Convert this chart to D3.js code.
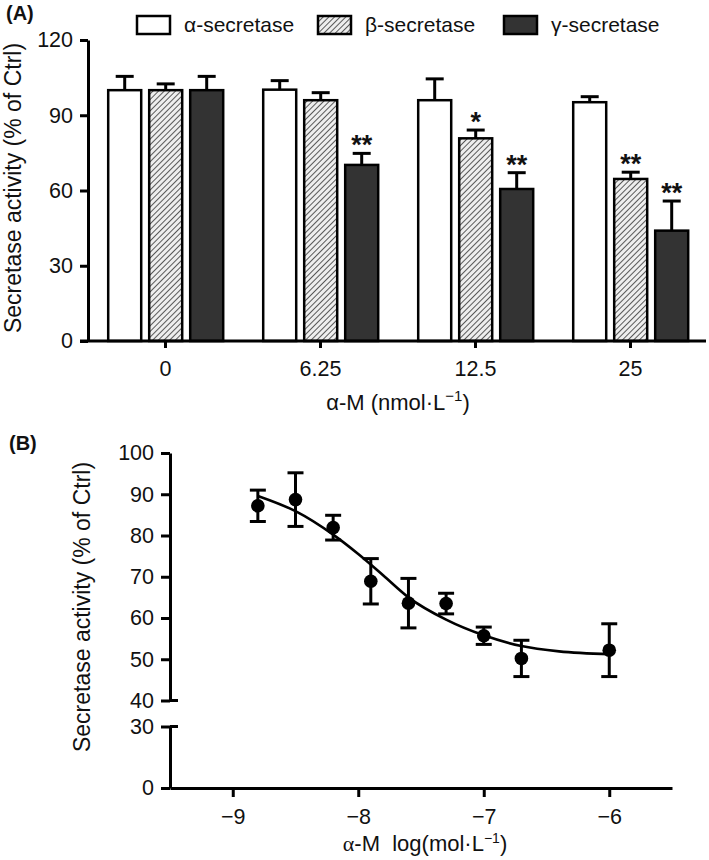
<!DOCTYPE html>
<html>
<head>
<meta charset="utf-8">
<script src="https://cdn.jsdelivr.net/npm/d3@7"></script>
<style>
  html, body { margin: 0; padding: 0; background: #fff; }
  svg { display: block; font-family: "Liberation Sans", Arial, sans-serif; }
</style>
</head>
<body>
<svg id="chart" width="709" height="860"></svg>
<script>
// ---------- Panel A data ----------
const categories = ['0', '6.25', '12.5', '25'];
const seriesNames = ['α-secretase', 'β-secretase', 'γ-secretase'];
const alphaMean = [100, 100.2, 96.0, 95.2];
const alphaErr  = [5.5, 3.6, 8.5, 2.2];
const betaMean  = [100, 96.0, 80.8, 64.6];
const betaErr   = [2.5, 3.0, 3.3, 2.7];
const gammaMean = [100, 70.2, 60.6, 44.0];
const gammaErr  = [5.5, 4.6, 6.5, 11.8];
const alphaSig  = ['', '', '', ''];
const betaSig   = ['', '', '*', '**'];
const gammaSig  = ['', '**', '**', '**'];
const yTicksA   = [0, 30, 60, 90, 120];

// ---------- Panel B data ----------
const logDose   = [-8.8, -8.5, -8.2, -7.9, -7.6, -7.3, -7.0, -6.7, -6.0];
const activity  = [87.2, 88.7, 81.9, 68.9, 63.6, 63.5, 55.7, 50.2, 52.2];
const activitySem = [3.8, 6.5, 3.0, 5.5, 6.0, 2.5, 2.1, 4.4, 6.4];
const fitX = [-8.8, -8.5, -8.2, -8.0, -7.8, -7.6, -7.3, -7.0, -6.7, -6.4, -6.0];
const fitY = [89.6, 85.9, 80.2, 75.5, 70.3, 65.0, 59.6, 55.8, 53.2, 51.9, 51.2];
const xTicksB = [-9, -8, -7, -6];
const yTicksBTop = [40, 50, 60, 70, 80, 90, 100];
const yTicksBBottom = [0, 30];

const svg = d3.select('#chart');
const defs = svg.append('defs');
const pat = defs.append('pattern')
  .attr('id', 'hatch')
  .attr('patternUnits', 'userSpaceOnUse')
  .attr('width', 4).attr('height', 4)
  .attr('patternTransform', 'rotate(45)');
pat.append('rect').attr('width', 4).attr('height', 4).attr('fill', '#eeeeee');
pat.append('line').attr('x1', 0).attr('y1', 0).attr('x2', 0).attr('y2', 4)
  .attr('stroke', '#333').attr('stroke-width', 1.6);

const fills = ['#ffffff', 'url(#hatch)', '#333333'];
const means = [alphaMean, betaMean, gammaMean];
const errs = [alphaErr, betaErr, gammaErr];
const sigs = [alphaSig, betaSig, gammaSig];

// ================= PANEL A =================
const xA = d3.scaleBand().domain(categories).range([88, 708]).paddingInner(0).paddingOuter(0);
const xA1 = d3.scaleBand().domain(seriesNames).range([20.2, 135.2]).paddingInner(0.195).paddingOuter(0);
const yA = d3.scaleLinear().domain([0, 120]).range([341, 40]);

const gA = svg.append('g');

const barData = [];
categories.forEach((c, i) => {
  seriesNames.forEach((s, j) => {
    barData.push({cat: c, ser: s, j, v: means[j][i], e: errs[j][i], sig: sigs[j][i]});
  });
});

// error bars (upper only)
const capW = 18;
gA.selectAll('.errA').data(barData).enter().append('g').attr('class', 'errA')
  .each(function(d) {
    const cx = xA(d.cat) + xA1(d.ser) + xA1.bandwidth() / 2;
    const g = d3.select(this);
    g.append('line').attr('x1', cx).attr('x2', cx)
      .attr('y1', yA(d.v)).attr('y2', yA(d.v + d.e))
      .attr('stroke', '#000').attr('stroke-width', 3);
    g.append('line').attr('x1', cx - capW / 2).attr('x2', cx + capW / 2)
      .attr('y1', yA(d.v + d.e)).attr('y2', yA(d.v + d.e))
      .attr('stroke', '#000').attr('stroke-width', 3);
  });

gA.selectAll('.barA').data(barData).enter().append('rect').attr('class', 'barA')
  .attr('x', d => xA(d.cat) + xA1(d.ser))
  .attr('y', d => yA(d.v))
  .attr('width', xA1.bandwidth())
  .attr('height', d => yA(0) - yA(d.v))
  .attr('fill', d => fills[d.j])
  .attr('stroke', '#000').attr('stroke-width', 2.5);

gA.selectAll('.sigA').data(barData.filter(d => d.sig)).enter().append('text')
  .attr('x', d => xA(d.cat) + xA1(d.ser) + xA1.bandwidth() / 2)
  .attr('y', d => yA(d.v + d.e) + 1)
  .attr('text-anchor', 'middle')
  .attr('font-size', 27)
  .attr('font-weight', 'bold')
  .attr('fill', '#111')
  .text(d => d.sig);

// axes A
const axA_y = d3.axisLeft(yA).tickValues(yTicksA).tickSize(8).tickSizeOuter(0).tickPadding(7);
const gAy = gA.append('g').attr('transform', 'translate(88,0)').call(axA_y);
const axA_x = d3.axisBottom(xA).tickSize(7).tickSizeOuter(0).tickPadding(13);
const gAx = gA.append('g').attr('transform', 'translate(0,341)').call(axA_x);
[gAy, gAx].forEach(g => {
  g.select('.domain').attr('stroke', '#000').attr('stroke-width', 3);
  g.selectAll('.tick line').attr('stroke', '#000').attr('stroke-width', 3);
  g.selectAll('.tick text').attr('font-size', 21.5).attr('fill', '#111')
    .attr('font-family', '"Liberation Sans", Arial, sans-serif');
});
gAx.select('.domain').attr('d', 'M80,0H706');

gA.append('text')
  .attr('transform', 'translate(21,188) rotate(-90)')
  .attr('text-anchor', 'middle').attr('font-size', 23).attr('fill', '#111')
  .text('Secretase activity (% of Ctrl)');

const xlabA = gA.append('text').attr('x', 398).attr('y', 410)
  .attr('text-anchor', 'middle').attr('font-size', 22).attr('fill', '#111');
xlabA.append('tspan').text('α-M (nmol·L');
xlabA.append('tspan').attr('dy', -9).attr('font-size', 15).text('−1');
xlabA.append('tspan').attr('dy', 9).text(')');

svg.append('text').attr('x', 6).attr('y', 20).attr('font-size', 20)
  .attr('font-weight', 'bold').attr('fill', '#111').text('(A)');

// legend
const legX = [137, 318, 504];
seriesNames.forEach((s, j) => {
  svg.append('rect').attr('x', legX[j]).attr('y', 16).attr('width', 33).attr('height', 18)
    .attr('fill', fills[j]).attr('stroke', '#000').attr('stroke-width', 2.5);
  svg.append('text').attr('x', legX[j] + 47).attr('y', 32).attr('font-size', 21)
    .attr('fill', '#111').text(s);
});

// ================= PANEL B =================
const xB = d3.scaleLinear().domain([-9.5, -5.5]).range([170, 672]);
const yBt = d3.scaleLinear().domain([40, 100]).range([700.5, 453]);
const yBb = d3.scaleLinear().domain([0, 30]).range([788, 726.5]);
const gB = svg.append('g');

const axB_x = d3.axisBottom(xB).tickValues(xTicksB).tickSize(9).tickSizeOuter(0).tickPadding(12)
  .tickFormat(d => '−' + Math.abs(d));
const gBx = gB.append('g').attr('transform', 'translate(0,788)').call(axB_x);
const gByt = gB.append('g').attr('transform', 'translate(170,0)')
  .call(d3.axisLeft(yBt).tickValues(yTicksBTop).tickSize(9).tickSizeOuter(0).tickPadding(7));
const gByb = gB.append('g').attr('transform', 'translate(170,0)')
  .call(d3.axisLeft(yBb).tickValues(yTicksBBottom).tickSize(9).tickSizeOuter(0).tickPadding(7));
[gBx, gByt, gByb].forEach(g => {
  g.select('.domain').attr('stroke', '#000').attr('stroke-width', 3);
  g.selectAll('.tick line').attr('stroke', '#000').attr('stroke-width', 3);
  g.selectAll('.tick text').attr('font-size', 21.5).attr('fill', '#111')
    .attr('font-family', '"Liberation Sans", Arial, sans-serif');
});
// break caps
[yBt(40), yBb(30)].forEach(yy => {
  gB.append('line').attr('x1', 170).attr('x2', 178).attr('y1', yy).attr('y2', yy)
    .attr('stroke', '#000').attr('stroke-width', 3);
});

// fitted curve
const fitPts = fitX.map((x, i) => [x, fitY[i]]);
gB.append('path').datum(fitPts)
  .attr('fill', 'none').attr('stroke', '#000').attr('stroke-width', 2.6)
  .attr('d', d3.line().x(d => xB(d[0])).y(d => yBt(d[1])).curve(d3.curveMonotoneX));

// error bars
const pts = logDose.map((x, i) => ({x, y: activity[i], e: activitySem[i]}));
const capB = 16;
gB.selectAll('.errB').data(pts).enter().append('g').each(function(d) {
  const g = d3.select(this);
  const cx = xB(d.x);
  g.append('line').attr('x1', cx).attr('x2', cx).attr('y1', yBt(d.y - d.e)).attr('y2', yBt(d.y + d.e))
    .attr('stroke', '#000').attr('stroke-width', 3);
  [d.y - d.e, d.y + d.e].forEach(v => {
    g.append('line').attr('x1', cx - capB / 2).attr('x2', cx + capB / 2)
      .attr('y1', yBt(v)).attr('y2', yBt(v)).attr('stroke', '#000').attr('stroke-width', 3);
  });
});
gB.selectAll('.ptB').data(pts).enter().append('circle')
  .attr('cx', d => xB(d.x)).attr('cy', d => yBt(d.y)).attr('r', 6.8).attr('fill', '#000');

gB.append('text')
  .attr('transform', 'translate(90,607) rotate(-90)')
  .attr('text-anchor', 'middle').attr('font-size', 23).attr('fill', '#111')
  .text('Secretase activity (% of Ctrl)');

const xlabB = gB.append('text').attr('x', 425).attr('y', 851)
  .attr('text-anchor', 'middle').attr('font-size', 22).attr('fill', '#111');
xlabB.append('tspan').attr('font-family', '"Liberation Serif", serif').text('α');
xlabB.append('tspan').text('-M  log(mol·L').attr('xml:space', 'preserve');
xlabB.append('tspan').attr('dy', -8).attr('font-size', 14).text('−1');
xlabB.append('tspan').attr('dy', 8).text(')');

svg.append('text').attr('x', 9).attr('y', 450).attr('font-size', 20)
  .attr('font-weight', 'bold').attr('fill', '#111').text('(B)');
</script>
</body>
</html>
